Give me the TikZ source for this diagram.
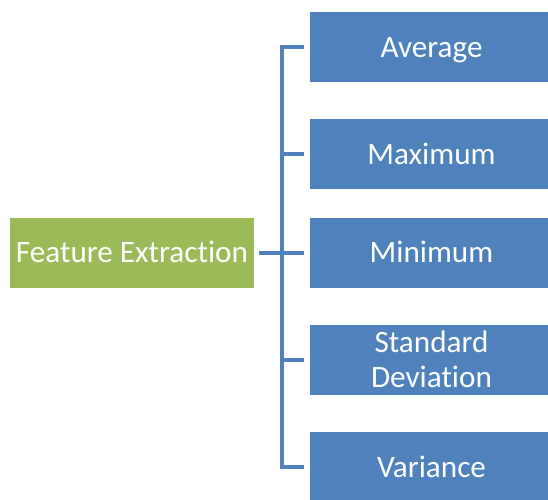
\documentclass[tikz,border=0pt]{standalone}
\usepackage{fontspec}
\setmainfont[Ligatures={NoCommon}]{Carlito}
\definecolor{featgreen}{HTML}{9BBB59}
\definecolor{statblue}{HTML}{4F81BD}
\begin{document}
\begin{tikzpicture}[x=1pt,y=-1pt,
  box/.style={rectangle, inner sep=0pt, text=white, align=center,
    font=\fontsize{31.2}{35}\selectfont},
  oneline/.style={text height=20pt, text depth=0pt},
  rootbox/.style={box, fill=featgreen, minimum width=244pt, minimum height=70pt},
  leafbox/.style={box, fill=statblue, minimum width=243pt, minimum height=70pt},
  bus/.style={draw=statblue, line width=4pt, line join=miter}]
  \useasboundingbox (0,0) rectangle (548,499);

  % root and the five statistics
  \node[rootbox,oneline] (fe)  at (132,252.5) {Feature Extraction};
  \node[leafbox,oneline] (avg) at (431.5,47)    {Average};
  \node[leafbox,oneline] (max) at (431.5,154)   {Maximum};
  \node[leafbox,oneline] (min) at (431.5,252.5) {Minimum};
  \node[leafbox] (std) at (431.5,359.5) {Standard\\Deviation};
  \node[leafbox,oneline] (var) at (431.5,467)   {Variance};

  % bracket bus with its stubs
  \draw[bus] ([xshift=-6pt]avg.west) -| ([xshift=-28pt]var.west) -- ([xshift=-6pt]var.west);
  \draw[bus] ([xshift=-6pt]max.west) -- ++(-22,0);
  \draw[bus] ([xshift=-6pt]std.west) -- ++(-22,0);
  \draw[bus] ([xshift=5pt]fe.east) -- ([xshift=-6pt]min.west);
\end{tikzpicture}
\end{document}
